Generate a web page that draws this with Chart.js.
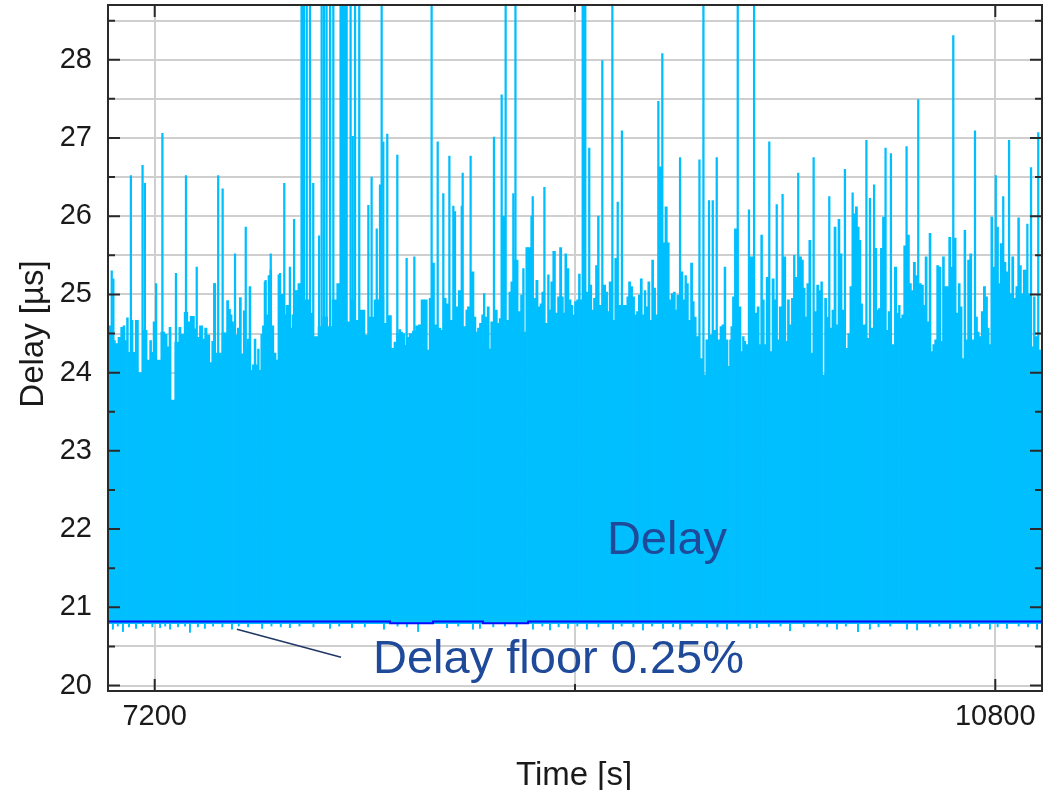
<!DOCTYPE html>
<html>
<head>
<meta charset="utf-8">
<script src="https://cdn.jsdelivr.net/npm/chart.js@4/dist/chart.umd.min.js"></script>
<style>
  html, body { margin: 0; padding: 0; background: #ffffff; }
  #wrap { width: 1053px; height: 790px; }
</style>
</head>
<body>
<div id="wrap"><canvas id="chart" width="1053" height="790"></canvas></div>
<script>
// Axis ticks
const xTickValues = [7200, 9000, 10800];
const xTickLabels = ['7200', '', '10800'];
const yTickValues = [20, 20.5, 21, 21.5, 22, 22.5, 23, 23.5, 24, 24.5, 25, 25.5, 26, 26.5, 27, 27.5, 28, 28.5];
const yTickLabels = ['20', '', '21', '', '22', '', '23', '', '24', '', '25', '', '26', '', '27', '', '28', ''];

// Delay samples: time [s] and peak delay [µs] of the dense band
const delayTimes = [
  7007, 7026, 7037, 7049, 7060, 7069, 7076, 7083, 7091, 7103, 7111, 7123, 7137, 7160, 7174, 7183,
  7190, 7197, 7216, 7237, 7249, 7257, 7266, 7274, 7299, 7308, 7317, 7336, 7347, 7357, 7366, 7374,
  7384,
  7400, 7410, 7418, 7430, 7441, 7448, 7455, 7464, 7481, 7495, 7504, 7512, 7521, 7528, 7534, 7541,
  7550, 7558, 7567, 7575, 7584, 7592, 7601, 7608, 7615, 7622, 7630, 7637, 7644, 7651, 7658, 7665,
  7672, 7681, 7690, 7697, 7705, 7715, 7724, 7732, 7741, 7749, 7758, 7767, 7775, 7784, 7792, 7801,
  7809, 7818,
  7830, 7850, 7870, 7890, 7910, 7930, 7950, 7970, 7990, 8010, 8030, 8050, 8070, 8090, 8110, 8130,
  8150,
  8174, 8188, 8208, 8219, 8231, 8241, 8249, 8258, 8266, 8275, 8285, 8295, 8313, 8323,
  8336, 8346, 8362, 8372, 8379, 8393, 8403, 8422, 8429, 8443, 8453, 8472, 8496, 8505, 8529, 8536,
  8543, 8562, 8572, 8579, 8586, 8596, 8605, 8610, 8619, 8629, 8636, 8643, 8662, 8672, 8679, 8690,
  8712, 8722, 8729, 8750, 8762, 8772, 8779, 8786, 8793, 8800, 8807, 8814, 8829, 8836, 8847, 8854,
  8862, 8879, 8886, 8893, 8900, 8910, 8922, 8929, 8939, 8947, 8953, 8960, 8969, 8979, 8987, 8993,
  9003, 9011, 9019, 9026, 9050, 9067, 9076, 9083, 9093, 9100, 9107, 9126, 9136, 9143, 9150, 9167,
  9174, 9193, 9210, 9218, 9226, 9233, 9243, 9250, 9260, 9267, 9276, 9283, 9293, 9300, 9307, 9317,
  9324, 9333, 9340, 9350, 9364, 9381, 9390, 9400, 9407, 9417, 9426, 9433, 9440, 9457, 9467, 9474,
  9481, 9490, 9500, 9507, 9514, 9524, 9540, 9557, 9564, 9583, 9600, 9617, 9625, 9635, 9642, 9650,
  9660,
  9664, 9671, 9678, 9688, 9707, 9714, 9721, 9728, 9735, 9754, 9775, 9785, 9792, 9799, 9807, 9814,
  9824, 9839, 9849, 9857, 9871, 9879, 9899, 9906, 9914, 9922, 9932, 9939, 9946, 9966, 9974, 9982,
  9989, 9997, 10006, 10014, 10031, 10039, 10049, 10056, 10064, 10074, 10081, 10096, 10105, 10114, 10122, 10131,
  10138, 10149, 10164, 10173, 10182, 10196, 10206, 10213, 10221, 10228, 10235, 10256, 10271, 10288, 10296, 10303,
  10313, 10321, 10338, 10345, 10363, 10373, 10382, 10389, 10396, 10403, 10413, 10428, 10436, 10445, 10453, 10463,
  10478, 10488, 10496, 10503, 10513, 10520, 10529, 10536, 10545, 10553, 10563, 10570, 10578, 10586, 10596, 10605,
  10613, 10627, 10637, 10646, 10653, 10662, 10670, 10677, 10686, 10695, 10703, 10720, 10727, 10735, 10745, 10753,
  10763, 10770, 10777, 10785, 10793, 10810, 10817, 10826, 10842, 10849, 10867, 10874, 10884, 10892, 10900, 10907,
  10916, 10924, 10931, 10937, 10944, 10960, 10967, 10974, 10991
];
const delayPeaks = [
  24.60, 24.41, 24.37, 24.45, 24.58, 24.60, 24.41, 24.70, 24.26, 24.67, 24.26, 24.67, 24.00, 24.54, 24.16, 24.41,
  24.26, 24.65, 24.16, 24.52, 24.49, 24.33, 24.58, 23.65, 24.39, 24.58, 24.49, 24.77, 24.65, 24.72, 24.72, 24.56,
  24.45,
  24.60, 24.43, 24.57, 24.48, 24.13, 24.40, 25.14, 24.25, 24.25, 24.51, 24.51, 24.92, 24.81, 24.74, 24.65, 24.60,
  24.48, 24.57, 24.96, 24.24, 24.79, 24.32, 24.43, 25.09, 24.03, 24.10, 24.43, 24.10, 24.30, 24.03, 24.49, 24.60,
  25.16, 24.74, 25.24, 25.31, 24.60, 24.25, 24.16, 25.25, 25.00, 25.00, 24.74, 24.86, 24.86, 24.57, 24.74, 25.05,
  25.05, 25.14,
  25.14, 24.93, 24.76, 24.46, 24.59, 24.71, 24.59, 24.93, 25.14, 25.10, 24.65, 24.93, 24.67, 24.80, 24.48, 24.71,
  24.93,
  24.96, 24.63, 24.73, 24.31, 24.39, 24.50, 24.55, 24.52, 24.50, 24.35, 24.45, 24.50, 24.53, 24.60,
  24.61, 24.93, 24.93, 24.29, 24.95, 25.40, 24.61, 24.57, 24.54, 24.95, 24.88, 24.67, 24.84, 25.05, 24.59, 24.80,
  24.84, 25.29, 24.71, 24.52, 24.57, 24.63, 24.74, 25.01, 24.71, 24.84, 24.30, 24.65, 24.80, 24.63, 24.69, 26.00,
  24.67, 25.03, 25.16, 25.44, 24.78, 24.99, 25.33, 24.52, 25.60, 25.60, 25.60, 26.00, 24.95, 25.18, 24.84, 24.88,
  25.03, 24.63, 25.25, 24.80, 25.16, 25.55, 24.76, 24.97, 25.60, 24.97, 24.76, 25.52, 25.33, 24.93, 24.86, 24.74,
  24.91, 24.93, 25.26, 24.93, 25.03, 25.12, 24.80, 24.95, 25.37, 26.00, 24.86, 25.12, 25.03, 24.78, 25.16, 24.67,
  25.46, 24.86, 24.86, 24.86, 24.97, 25.16, 25.10, 24.97, 24.74, 24.78, 24.99, 25.20, 24.74, 25.05, 24.84, 25.16,
  24.67, 25.44, 25.08, 24.74, 26.63, 25.66, 26.12, 25.66, 24.93, 25.01, 25.03, 24.80, 24.99, 25.29, 24.93, 25.24,
  25.14, 24.67, 25.40, 24.91, 24.71, 24.46, 24.18, 23.97, 24.42, 24.48, 24.54, 24.42, 24.59, 24.61, 25.35, 24.42,
  24.08,
  24.42, 24.59, 24.97, 25.84, 24.84, 24.27, 24.46, 24.40, 24.36, 25.48, 24.76, 24.84, 24.36, 25.76, 24.93, 24.36,
  25.22, 24.27, 25.20, 24.93, 24.42, 24.84, 25.48, 24.40, 24.93, 24.61, 24.95, 25.50, 25.22, 25.48, 25.44, 25.08,
  24.71, 25.14, 25.69, 24.25, 24.78, 25.12, 25.05, 25.16, 23.97, 24.95, 24.71, 24.57, 24.80, 25.86, 24.61, 25.96,
  25.52, 24.80, 24.31, 24.50, 25.10, 26.03, 26.12, 25.86, 25.69, 24.88, 24.61, 24.44, 24.57, 25.59, 24.80, 24.82,
  25.59, 25.99, 24.54, 24.78, 24.36, 25.35, 24.76, 24.86, 24.69, 24.74, 25.62, 25.76, 25.14, 25.05, 25.41, 25.24,
  25.14, 25.12, 24.86, 25.48, 24.65, 25.78, 24.27, 24.36, 24.42, 25.37, 25.35, 24.40, 25.48, 25.10, 25.10, 25.73,
  25.35, 25.72, 24.76, 25.14, 24.84, 24.18, 25.82, 24.42, 25.44, 25.52, 24.42, 24.71, 24.52, 24.46, 24.78, 25.10,
  24.97, 24.57, 24.36, 25.99, 25.35, 25.86, 25.14, 25.65, 25.41, 25.29, 25.01, 25.48, 24.95, 25.10, 25.98, 25.37,
  25.01, 25.31, 25.31, 25.90, 25.01, 24.33, 24.97, 24.46, 24.29
];

// Isolated delay outliers (narrow spikes above the band)
const spikeTimes = [
  7016, 7023, 7098, 7148, 7158, 7206, 7233, 7291, 7334, 7380, 7458, 7472, 7491, 7544, 7590, 7608,
  7675, 7697, 7737, 7755, 7779, 7797, 7829, 7834, 7839, 7851, 7865, 7879, 7904, 7915, 7925, 7936,
  7951, 7965, 7996, 8002, 8008, 8015, 8022, 8039, 8048, 8058, 8076, 8115, 8129, 8151, 8165, 8172,
  8179, 8196, 8239, 8279, 8312,
  8386, 8412, 8436, 8462, 8479, 8486, 8515, 8519, 8553, 8653, 8686, 8703, 8736, 8745, 8819, 8869,
  9033, 9039, 9044, 9061, 9117, 9160, 9183, 9201, 9357, 9374, 9450, 9533, 9550, 9574, 9590, 9607,
  9697, 9745, 9767, 9832, 9864, 9889, 9956, 10022, 10089, 10156, 10189, 10248, 10263, 10281, 10330, 10353,
  10420, 10470, 10620, 10713, 10802, 10834, 10859, 10953, 10984
];
const spikeValues = [
  25.30, 25.20, 26.52, 26.65, 26.42, 25.14, 27.06, 25.27, 26.52, 25.35, 25.14, 26.52, 26.35, 25.52, 25.86, 25.10,
  25.18, 25.52, 25.27, 26.42, 25.35, 25.96, 28.70, 28.70, 28.70, 28.70, 28.70, 26.42, 25.75, 28.70, 28.70, 28.70,
  28.70, 28.70, 28.70, 28.70, 28.70, 28.70, 28.70, 28.70, 27.02, 28.70, 28.70, 26.14, 26.50, 25.84, 26.40, 28.70,
  26.95, 27.05, 26.78, 25.46, 25.48,
  28.70, 26.95, 26.29, 26.77, 26.13, 26.06, 26.13, 26.55, 26.77, 27.01, 27.55, 28.70, 26.29, 28.70, 26.25, 26.37,
  28.70, 28.70, 28.70, 26.87, 27.99, 28.70, 26.18, 27.09, 27.47, 28.08, 26.75, 26.72, 28.70, 26.20, 26.20, 26.75,
  28.70, 26.08, 28.70, 26.95, 26.15, 26.28, 26.55, 26.75, 26.25, 26.60, 26.30, 26.97, 26.23, 26.40, 26.87, 26.80,
  26.89, 27.49, 28.31, 27.09, 26.52, 26.25, 26.97, 26.62, 27.07
];

// Lowest delays dipping under the floor
const dipTimes = [
  7021, 7042, 7064, 7090, 7120, 7150, 7190, 7223, 7245, 7266, 7300, 7330, 7351, 7385, 7415, 7450,
  7490, 7531, 7560, 7600, 7660, 7700, 7740, 7779, 7820, 7880, 7951, 7990, 8045, 8100, 8182, 8240,
  8280, 8328, 8452, 8500, 8563, 8593, 8650, 8700, 8750, 8820, 8860, 8893, 8930, 8970, 9010, 9051,
  9100, 9163, 9200, 9250, 9291, 9330, 9377, 9420, 9450, 9500, 9565, 9610, 9651, 9700, 9749, 9779,
  9830, 9880, 9921, 9980, 10040, 10080, 10122, 10160, 10212, 10263, 10300, 10350, 10422, 10465, 10520, 10560,
  10606, 10650, 10692, 10730, 10777, 10810, 10850, 10900, 10940, 10979
];
const dipValues = [
  20.72, 20.76, 20.69, 20.75, 20.73, 20.76, 20.75, 20.74, 20.76, 20.72, 20.75, 20.76, 20.68, 20.75, 20.73, 20.76,
  20.75, 20.72, 20.76, 20.75, 20.73, 20.76, 20.75, 20.74, 20.76, 20.75, 20.73, 20.76, 20.74, 20.75, 20.72, 20.76,
  20.75, 20.69, 20.74, 20.76, 20.72, 20.73, 20.75, 20.76, 20.75, 20.72, 20.76, 20.71, 20.75, 20.73, 20.76, 20.72,
  20.75, 20.72, 20.76, 20.75, 20.71, 20.76, 20.73, 20.75, 20.72, 20.76, 20.74, 20.75, 20.72, 20.76, 20.73, 20.74,
  20.75, 20.76, 20.70, 20.75, 20.76, 20.75, 20.72, 20.76, 20.69, 20.72, 20.75, 20.76, 20.72, 20.71, 20.75, 20.76,
  20.73, 20.75, 20.73, 20.76, 20.72, 20.75, 20.73, 20.76, 20.75, 20.72
];

// Delay floor (0.25 % quantile): each value holds until the next time
const floorTimes = [7000, 8208, 8392, 8606, 8799, 11000];
const floorValues = [20.82, 20.795, 20.82, 20.795, 20.82, 20.82];

// Lower edge of the dense band
const bandBase = 20.79;

const CYAN = '#00bfff';
const FONT = "'Liberation Sans', Arial, Helvetica, sans-serif";
Chart.defaults.font.family = FONT;

const band = delayTimes.map((t, i) => ({ x: t, y: [bandBase, delayPeaks[i]] }));
const spikes = spikeTimes.map((t, i) => ({ x: t, y: [bandBase, spikeValues[i]] }));
const dips = dipTimes.map((t, i) => ({ x: t, y: [dipValues[i], bandBase + 0.02] }));
const floor = floorTimes.map((t, i) => ({ x: t, y: floorValues[i] }));

// Frame, inward tick marks, axis titles and in-plot notes
const framePlugin = {
  id: 'frameNotes',
  afterDatasetsDraw(chart) {
    const { ctx, chartArea: a, scales: { x, y } } = chart;
    ctx.save();
    ctx.strokeStyle = '#2a2a2a';
    ctx.lineWidth = 2;
    ctx.beginPath();
    yTickValues.forEach((v, i) => {
      const py = y.getPixelForValue(v);
      const len = yTickLabels[i] ? 12 : 7;
      ctx.moveTo(a.left, py); ctx.lineTo(a.left + len, py);
      ctx.moveTo(a.right, py); ctx.lineTo(a.right - len, py);
    });
    xTickValues.forEach((v, i) => {
      const px = x.getPixelForValue(v);
      const len = xTickLabels[i] ? 12 : 7;
      ctx.moveTo(px, a.bottom); ctx.lineTo(px, a.bottom - len);
      ctx.moveTo(px, a.top); ctx.lineTo(px, a.top + len);
    });
    ctx.stroke();
    ctx.strokeRect(a.left, a.top, a.right - a.left, a.bottom - a.top);

    // notes inside the plot
    ctx.fillStyle = '#1f4a9a';
    ctx.font = '47px ' + FONT;
    ctx.textAlign = 'center';
    ctx.textBaseline = 'alphabetic';
    ctx.fillText('Delay', x.getPixelForValue(9394), y.getPixelForValue(21.68));
    ctx.textAlign = 'left';
    ctx.fillText('Delay floor 0.25%', x.getPixelForValue(8135), y.getPixelForValue(20.157));
    ctx.strokeStyle = '#1f3864';
    ctx.lineWidth = 1.5;
    ctx.beginPath();
    ctx.moveTo(x.getPixelForValue(7552), y.getPixelForValue(20.72));
    ctx.lineTo(x.getPixelForValue(7998), y.getPixelForValue(20.362));
    ctx.stroke();

    // axis titles
    ctx.fillStyle = '#1a1a1a';
    ctx.font = '33px ' + FONT;
    ctx.textAlign = 'center';
    ctx.fillText('Time [s]', 574, 785);
    ctx.translate(43, 334);
    ctx.rotate(-Math.PI / 2);
    ctx.fillText('Delay [µs]', 0, 0);
    ctx.restore();
  }
};

new Chart(document.getElementById('chart'), {
  type: 'bar',
  data: {
    datasets: [
      {
        type: 'line', label: 'Delay floor 0.25%', data: floor,
        borderColor: '#0a0aff', borderWidth: 2, stepped: 'before',
        pointRadius: 0, fill: false, order: 0
      },
      {
        label: 'Delay', data: spikes, backgroundColor: CYAN,
        barThickness: 1.6, grouped: false, order: 1
      },
      {
        label: 'Delay', data: band, backgroundColor: CYAN,
        barThickness: 'flex', barPercentage: 1.05, categoryPercentage: 1,
        grouped: true, order: 2
      },
      {
        label: 'Delay', data: dips, backgroundColor: CYAN,
        barThickness: 1.3, grouped: false, order: 3
      }
    ]
  },
  options: {
    responsive: false,
    animation: false,
    events: [],
    layout: { padding: { top: 5, right: 11, left: 0, bottom: 0 } },
    datasets: { bar: { borderWidth: 0, borderSkipped: false } },
    plugins: { legend: { display: false }, tooltip: { enabled: false } },
    scales: {
      x: {
        type: 'linear', min: 7000, max: 11000, offset: false,
        afterBuildTicks: (s) => { s.ticks = xTickValues.map(v => ({ value: v })); },
        afterFit: (s) => { s.height = 99; s.paddingLeft = 0; s.paddingRight = 0; },
        ticks: {
          autoSkip: false, maxRotation: 0, padding: 9, color: '#1a1a1a',
          font: { size: 29 },
          callback: (v, i) => xTickLabels[i]
        },
        grid: { color: '#cfcfcf', lineWidth: 2, drawTicks: false, offset: false },
        border: { display: false }
      },
      y: {
        min: 19.93, max: 28.7,
        afterBuildTicks: (s) => { s.ticks = yTickValues.map(v => ({ value: v })); },
        afterFit: (s) => { s.width = 108; s.paddingTop = 0; s.paddingBottom = 0; },
        ticks: {
          padding: 16, color: '#1a1a1a',
          font: { size: 29 },
          callback: (v, i) => yTickLabels[i]
        },
        grid: { color: '#cfcfcf', lineWidth: 2, drawTicks: false },
        border: { display: false }
      }
    }
  },
  plugins: [framePlugin]
});
</script>
</body>
</html>
